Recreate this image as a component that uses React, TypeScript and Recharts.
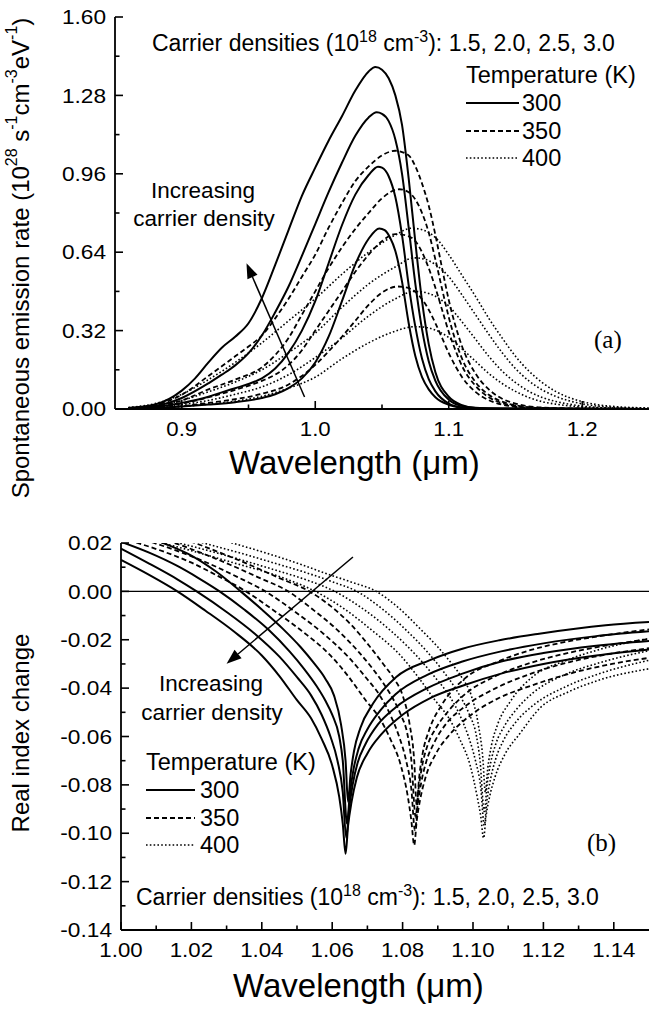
import React from 'react';
import { LineChart, Line, XAxis, YAxis, ReferenceLine } from 'recharts';

// ---------------- Panel (a): spontaneous emission rate ----------------
const aXMajor = [0.9, 1.0, 1.1, 1.2];
const aXMinor = [0.95, 1.05, 1.15];
const aYMajor = [0, 0.32, 0.64, 0.96, 1.28, 1.6];
const aYMinor = [0.16, 0.48, 0.8, 1.12, 1.44];

// 300 K (solid), carrier densities 3.0, 2.5, 2.0, 1.5 (x10^18 cm^-3)
const emis300_30 = [[0.86,0.004],[0.88,0.018],[0.90,0.075],[0.91,0.125],[0.92,0.190],[0.93,0.250],[0.94,0.295],[0.95,0.350],[0.96,0.452],[0.97,0.588],[0.98,0.730],[0.99,0.870],[1.00,0.985],[1.01,1.095],[1.02,1.195],[1.03,1.300],[1.04,1.378],[1.045,1.396],[1.05,1.385],[1.055,1.350],[1.06,1.280],[1.065,1.160],[1.07,0.940],[1.075,0.680],[1.08,0.440],[1.085,0.265],[1.09,0.150],[1.10,0.050],[1.11,0.016],[1.12,0.005],[1.14,0.001],[1.25,0]];
const emis300_25 = [[0.86,0.003],[0.88,0.012],[0.90,0.045],[0.92,0.105],[0.93,0.140],[0.94,0.178],[0.95,0.228],[0.96,0.300],[0.97,0.395],[0.98,0.500],[0.99,0.625],[1.00,0.755],[1.01,0.885],[1.02,1.005],[1.03,1.115],[1.04,1.190],[1.046,1.211],[1.05,1.205],[1.055,1.175],[1.06,1.100],[1.065,0.960],[1.07,0.740],[1.075,0.510],[1.08,0.325],[1.085,0.195],[1.09,0.115],[1.10,0.038],[1.11,0.012],[1.12,0.004],[1.14,0.001],[1.25,0]];
const emis300_20 = [[0.86,0.002],[0.88,0.008],[0.90,0.025],[0.92,0.050],[0.93,0.068],[0.94,0.085],[0.95,0.102],[0.96,0.125],[0.97,0.165],[0.98,0.230],[0.99,0.320],[1.00,0.440],[1.01,0.595],[1.02,0.750],[1.03,0.875],[1.04,0.955],[1.047,0.989],[1.05,0.985],[1.055,0.950],[1.06,0.865],[1.065,0.710],[1.07,0.505],[1.075,0.335],[1.08,0.205],[1.085,0.122],[1.09,0.072],[1.10,0.022],[1.11,0.006],[1.12,0.002],[1.25,0]];
const emis300_15 = [[0.86,0.001],[0.88,0.004],[0.90,0.010],[0.92,0.018],[0.94,0.028],[0.96,0.045],[0.97,0.060],[0.98,0.085],[0.99,0.125],[1.00,0.190],[1.01,0.295],[1.02,0.440],[1.03,0.590],[1.04,0.695],[1.048,0.737],[1.052,0.730],[1.056,0.700],[1.06,0.645],[1.065,0.520],[1.07,0.350],[1.075,0.215],[1.08,0.130],[1.085,0.080],[1.09,0.048],[1.10,0.017],[1.11,0.005],[1.12,0.001],[1.25,0]];
// 350 K (dashed)
const emis350_30 = [[0.86,0.004],[0.88,0.016],[0.90,0.058],[0.92,0.135],[0.94,0.215],[0.95,0.255],[0.96,0.300],[0.97,0.370],[0.98,0.450],[0.99,0.540],[1.00,0.630],[1.01,0.740],[1.02,0.840],[1.03,0.930],[1.04,0.990],[1.05,1.035],[1.06,1.054],[1.07,1.035],[1.075,0.990],[1.08,0.920],[1.085,0.830],[1.09,0.710],[1.095,0.575],[1.10,0.445],[1.105,0.340],[1.11,0.255],[1.12,0.145],[1.13,0.080],[1.14,0.042],[1.15,0.022],[1.17,0.006],[1.20,0.001],[1.25,0]];
const emis350_25 = [[0.86,0.003],[0.88,0.010],[0.90,0.035],[0.92,0.080],[0.94,0.120],[0.96,0.170],[0.97,0.220],[0.98,0.290],[0.99,0.385],[1.00,0.480],[1.01,0.575],[1.02,0.660],[1.03,0.735],[1.04,0.800],[1.05,0.860],[1.063,0.897],[1.07,0.885],[1.075,0.855],[1.08,0.800],[1.085,0.720],[1.09,0.610],[1.095,0.490],[1.10,0.375],[1.105,0.280],[1.11,0.205],[1.12,0.110],[1.13,0.058],[1.14,0.030],[1.15,0.015],[1.17,0.004],[1.20,0.001],[1.25,0]];
const emis350_20 = [[0.86,0.002],[0.88,0.007],[0.90,0.022],[0.92,0.048],[0.94,0.078],[0.96,0.115],[0.97,0.140],[0.98,0.180],[0.99,0.240],[1.00,0.320],[1.01,0.400],[1.02,0.480],[1.03,0.560],[1.04,0.630],[1.05,0.685],[1.06,0.714],[1.07,0.705],[1.075,0.685],[1.08,0.640],[1.085,0.575],[1.09,0.495],[1.095,0.405],[1.10,0.315],[1.105,0.240],[1.11,0.175],[1.12,0.095],[1.13,0.048],[1.14,0.024],[1.15,0.012],[1.17,0.003],[1.25,0]];
const emis350_15 = [[0.86,0.001],[0.88,0.004],[0.90,0.012],[0.92,0.025],[0.94,0.040],[0.96,0.062],[0.98,0.100],[0.99,0.135],[1.00,0.180],[1.01,0.235],[1.02,0.295],[1.03,0.360],[1.04,0.425],[1.05,0.475],[1.062,0.500],[1.07,0.493],[1.075,0.478],[1.08,0.448],[1.085,0.405],[1.09,0.350],[1.095,0.290],[1.10,0.228],[1.105,0.175],[1.11,0.130],[1.12,0.070],[1.13,0.036],[1.14,0.018],[1.15,0.009],[1.17,0.002],[1.25,0]];
// 400 K (dotted)
const emis400_30 = [[0.86,0.006],[0.88,0.022],[0.90,0.060],[0.92,0.120],[0.94,0.190],[0.96,0.270],[0.98,0.360],[1.00,0.450],[1.02,0.550],[1.04,0.640],[1.06,0.710],[1.072,0.738],[1.08,0.732],[1.09,0.700],[1.10,0.630],[1.11,0.545],[1.12,0.460],[1.13,0.370],[1.14,0.290],[1.15,0.215],[1.16,0.155],[1.17,0.108],[1.18,0.072],[1.19,0.047],[1.20,0.030],[1.22,0.012],[1.25,0.004]];
const emis400_25 = [[0.86,0.004],[0.88,0.014],[0.90,0.035],[0.92,0.070],[0.94,0.110],[0.96,0.160],[0.98,0.230],[1.00,0.310],[1.02,0.415],[1.04,0.510],[1.06,0.580],[1.074,0.617],[1.08,0.614],[1.09,0.590],[1.10,0.540],[1.11,0.465],[1.12,0.385],[1.13,0.305],[1.14,0.230],[1.15,0.165],[1.16,0.115],[1.17,0.078],[1.18,0.052],[1.20,0.021],[1.22,0.008],[1.25,0.002]];
const emis400_20 = [[0.86,0.002],[0.88,0.007],[0.90,0.018],[0.92,0.035],[0.94,0.060],[0.96,0.090],[0.98,0.140],[1.00,0.210],[1.02,0.290],[1.04,0.380],[1.06,0.450],[1.074,0.480],[1.08,0.478],[1.09,0.460],[1.10,0.420],[1.11,0.355],[1.12,0.285],[1.13,0.215],[1.14,0.155],[1.15,0.108],[1.16,0.072],[1.17,0.047],[1.18,0.031],[1.20,0.012],[1.22,0.004],[1.25,0.001]];
const emis400_15 = [[0.86,0.001],[0.88,0.004],[0.90,0.010],[0.92,0.020],[0.94,0.032],[0.96,0.052],[0.98,0.085],[1.00,0.130],[1.02,0.205],[1.04,0.270],[1.06,0.318],[1.074,0.336],[1.08,0.335],[1.09,0.322],[1.10,0.292],[1.11,0.245],[1.12,0.195],[1.13,0.145],[1.14,0.104],[1.15,0.072],[1.16,0.047],[1.17,0.030],[1.18,0.020],[1.20,0.008],[1.22,0.003],[1.25,0]];

// ---------------- Panel (b): real index change ----------------
const bXMajor = [1.0, 1.02, 1.04, 1.06, 1.08, 1.1, 1.12, 1.14];
const bXMinor = [1.01, 1.03, 1.05, 1.07, 1.09, 1.11, 1.13];
const bYMajor = [0.02, 0, -0.02, -0.04, -0.06, -0.08, -0.1, -0.12, -0.14];
const bYMinor = [0.01, -0.01, -0.03, -0.05, -0.07, -0.09, -0.11, -0.13];

const dn300_30 = [[1.000,0.0130],[1.008,0.0068],[1.016,0.0000],[1.024,-0.0080],[1.032,-0.0165],[1.040,-0.0265],[1.045,-0.0350],[1.050,-0.0450],[1.054,-0.0525],[1.057,-0.0610],[1.060,-0.0720],[1.062,-0.0850],[1.063,-0.0960],[1.0638,-0.1085],[1.0645,-0.0970],[1.0655,-0.0870],[1.067,-0.0770],[1.070,-0.0670],[1.074,-0.0590],[1.080,-0.0510],[1.088,-0.0440],[1.097,-0.0390],[1.108,-0.0340],[1.120,-0.0300],[1.135,-0.0265],[1.150,-0.0240]];
const dn300_25 = [[1.000,0.0177],[1.008,0.0115],[1.016,0.0050],[1.0215,0.0000],[1.030,-0.0085],[1.038,-0.0175],[1.045,-0.0270],[1.050,-0.0355],[1.054,-0.0430],[1.057,-0.0510],[1.0595,-0.0600],[1.0615,-0.0700],[1.063,-0.0830],[1.064,-0.1020],[1.0648,-0.0900],[1.0658,-0.0800],[1.0672,-0.0710],[1.0695,-0.0630],[1.073,-0.0550],[1.078,-0.0480],[1.087,-0.0400],[1.097,-0.0340],[1.108,-0.0290],[1.120,-0.0255],[1.135,-0.0225],[1.150,-0.0205]];
const dn300_20 = [[1.000,0.0205],[1.008,0.0160],[1.016,0.0105],[1.022,0.0055],[1.028,0.0000],[1.035,-0.0075],[1.042,-0.0160],[1.048,-0.0250],[1.052,-0.0320],[1.0555,-0.0390],[1.058,-0.0450],[1.060,-0.0510],[1.062,-0.0600],[1.063,-0.0700],[1.0642,-0.0960],[1.065,-0.0840],[1.066,-0.0740],[1.0675,-0.0650],[1.070,-0.0570],[1.0735,-0.0495],[1.078,-0.0425],[1.087,-0.0345],[1.097,-0.0290],[1.108,-0.0248],[1.120,-0.0215],[1.135,-0.0185],[1.150,-0.0165]];
const dn300_15 = [[1.000,0.0265],[1.012,0.0200],[1.020,0.0148],[1.027,0.0082],[1.034,0.0000],[1.040,-0.0075],[1.046,-0.0155],[1.051,-0.0230],[1.055,-0.0300],[1.058,-0.0360],[1.0605,-0.0430],[1.0625,-0.0550],[1.0638,-0.0700],[1.0645,-0.0870],[1.0652,-0.0760],[1.0662,-0.0660],[1.068,-0.0565],[1.0716,-0.0464],[1.0782,-0.0354],[1.0876,-0.0285],[1.097,-0.0237],[1.1075,-0.0202],[1.1188,-0.0175],[1.1377,-0.0140],[1.150,-0.0127]];

const dn350_30 = [[1.000,0.0220],[1.0047,0.0200],[1.012,0.0165],[1.0195,0.0122],[1.0275,0.0064],[1.0355,0.0000],[1.0435,-0.0080],[1.0515,-0.0165],[1.0595,-0.0265],[1.0645,-0.0350],[1.0695,-0.0450],[1.0735,-0.0525],[1.0765,-0.0610],[1.0795,-0.0720],[1.0815,-0.0850],[1.0825,-0.0950],[1.0833,-0.1050],[1.084,-0.0950],[1.085,-0.0860],[1.0865,-0.0770],[1.0895,-0.0670],[1.0935,-0.0590],[1.0995,-0.0510],[1.1075,-0.0440],[1.1165,-0.0390],[1.1275,-0.0340],[1.1395,-0.0300],[1.150,-0.0275]];
const dn350_25 = [[1.000,0.0240],[1.0094,0.0200],[1.017,0.0162],[1.025,0.0115],[1.033,0.0060],[1.041,0.0000],[1.0495,-0.0085],[1.0575,-0.0175],[1.0645,-0.0270],[1.0695,-0.0355],[1.0735,-0.0430],[1.0765,-0.0510],[1.079,-0.0600],[1.081,-0.0700],[1.0825,-0.0820],[1.0835,-0.0988],[1.0843,-0.0880],[1.0853,-0.0790],[1.0867,-0.0705],[1.089,-0.0625],[1.0925,-0.0545],[1.0975,-0.0478],[1.1065,-0.0400],[1.1165,-0.0340],[1.1275,-0.0292],[1.1395,-0.0257],[1.150,-0.0235]];
const dn350_20 = [[1.000,0.0265],[1.0152,0.0200],[1.023,0.0158],[1.031,0.0110],[1.039,0.0058],[1.0475,0.0000],[1.0545,-0.0075],[1.0615,-0.0160],[1.0675,-0.0250],[1.0715,-0.0320],[1.075,-0.0390],[1.0775,-0.0450],[1.0795,-0.0510],[1.0815,-0.0600],[1.0825,-0.0700],[1.0837,-0.0932],[1.0845,-0.0820],[1.0855,-0.0725],[1.087,-0.0640],[1.0895,-0.0565],[1.093,-0.0495],[1.0975,-0.0428],[1.1065,-0.0350],[1.1165,-0.0295],[1.1275,-0.0253],[1.1395,-0.0220],[1.150,-0.0197]];
const dn350_15 = [[1.000,0.0290],[1.021,0.0200],[1.029,0.0155],[1.037,0.0107],[1.045,0.0055],[1.0535,0.0000],[1.0595,-0.0060],[1.0655,-0.0140],[1.0705,-0.0225],[1.0745,-0.0300],[1.0775,-0.0360],[1.080,-0.0430],[1.082,-0.0550],[1.0833,-0.0700],[1.0840,-0.0883],[1.0847,-0.0770],[1.0857,-0.0670],[1.0875,-0.0575],[1.0911,-0.0470],[1.0977,-0.0360],[1.1071,-0.0290],[1.1165,-0.0242],[1.127,-0.0207],[1.1383,-0.0180],[1.150,-0.0157]];

const dn400_30 = [[1.000,0.0240],[1.0117,0.0200],[1.022,0.0160],[1.032,0.0118],[1.040,0.0085],[1.0475,0.0048],[1.0552,0.0000],[1.0632,-0.0070],[1.0712,-0.0160],[1.0792,-0.0262],[1.0842,-0.0350],[1.0892,-0.0450],[1.0932,-0.0525],[1.0962,-0.0610],[1.0992,-0.0720],[1.1012,-0.0850],[1.1022,-0.0930],[1.1030,-0.1020],[1.1037,-0.0930],[1.1047,-0.0850],[1.1062,-0.0770],[1.1092,-0.0670],[1.1132,-0.0590],[1.1192,-0.0480],[1.1272,-0.0415],[1.1362,-0.0365],[1.150,-0.0320]];
const dn400_25 = [[1.000,0.0255],[1.0164,0.0200],[1.027,0.0160],[1.037,0.0118],[1.045,0.0083],[1.053,0.0046],[1.0607,0.0000],[1.0692,-0.0077],[1.0772,-0.0170],[1.0842,-0.0270],[1.0892,-0.0355],[1.0932,-0.0430],[1.0962,-0.0510],[1.0987,-0.0600],[1.1007,-0.0700],[1.1022,-0.0810],[1.1032,-0.0967],[1.104,-0.0860],[1.105,-0.0775],[1.1064,-0.0695],[1.1087,-0.0615],[1.1122,-0.0540],[1.1172,-0.0470],[1.1262,-0.0395],[1.137,-0.0335],[1.150,-0.0285]];
const dn400_20 = [[1.000,0.0290],[1.0234,0.0200],[1.034,0.0158],[1.044,0.0115],[1.052,0.0080],[1.060,0.0040],[1.067,0.0000],[1.074,-0.0070],[1.081,-0.0160],[1.087,-0.0250],[1.091,-0.0320],[1.0945,-0.0390],[1.097,-0.0450],[1.099,-0.0510],[1.101,-0.0600],[1.102,-0.0700],[1.1032,-0.0910],[1.104,-0.0800],[1.105,-0.0710],[1.1065,-0.0630],[1.109,-0.0555],[1.1125,-0.0485],[1.117,-0.0420],[1.126,-0.0345],[1.136,-0.0295],[1.150,-0.0245]];
const dn400_15 = [[1.000,0.0320],[1.0316,0.0200],[1.042,0.0155],[1.051,0.0112],[1.058,0.0075],[1.0655,0.0038],[1.0725,0.0000],[1.079,-0.0070],[1.085,-0.0155],[1.090,-0.0230],[1.094,-0.0300],[1.097,-0.0360],[1.0995,-0.0430],[1.1015,-0.0550],[1.1028,-0.0690],[1.1035,-0.0830],[1.1042,-0.0730],[1.1052,-0.0640],[1.107,-0.0550],[1.1106,-0.0455],[1.1172,-0.0350],[1.1266,-0.0285],[1.136,-0.0240],[1.150,-0.0195]];

// arrows (data coordinates of "increasing carrier density" arrows)
const arrowA = [{ x: 0.992, y: 0.049 }, { x: 0.9485, y: 0.595 }];
const arrowB = [{ x: 1.0659, y: 0.0142 }, { x: 1.030, y: -0.0299 }];

const FONT = '"Liberation Sans", Arial, Helvetica, sans-serif';
const SERIF = '"Liberation Serif", "Times New Roman", serif';

type Temp = 300 | 350 | 400;
const lineStyle: Record<Temp, { w: number; dash?: string }> = {
  300: { w: 2 },
  350: { w: 1.8, dash: '5 3' },
  400: { w: 1.6, dash: '1.6 2.2' },
};

const toPts = (arr: number[][]) => arr.map(([x, y]) => ({ x, y }));

const seriesA: { t: Temp; d: number[][] }[] = [
  { t: 400, d: emis400_15 }, { t: 400, d: emis400_20 }, { t: 400, d: emis400_25 }, { t: 400, d: emis400_30 },
  { t: 350, d: emis350_15 }, { t: 350, d: emis350_20 }, { t: 350, d: emis350_25 }, { t: 350, d: emis350_30 },
  { t: 300, d: emis300_15 }, { t: 300, d: emis300_20 }, { t: 300, d: emis300_25 }, { t: 300, d: emis300_30 },
];
const seriesB: { t: Temp; d: number[][] }[] = [
  { t: 400, d: dn400_15 }, { t: 400, d: dn400_20 }, { t: 400, d: dn400_25 }, { t: 400, d: dn400_30 },
  { t: 350, d: dn350_15 }, { t: 350, d: dn350_20 }, { t: 350, d: dn350_25 }, { t: 350, d: dn350_30 },
  { t: 300, d: dn300_15 }, { t: 300, d: dn300_20 }, { t: 300, d: dn300_25 }, { t: 300, d: dn300_30 },
];

const sortTicks = (a: number[], b: number[]) => [...a, ...b].sort((p, q) => p - q);
const isIn = (list: number[], v: number) => list.some((m) => Math.abs(m - v) < 1e-9);

type Side = 'left' | 'right' | 'top' | 'bottom';
const makeTick = (side: Side, major: number[], fmt: ((v: number) => string) | null) => (props: any) => {
  const { x, y, payload } = props;
  const v = payload.value as number;
  const maj = isIn(major, v);
  const len = maj ? 8 : 4.5;
  let l: number[] = [x, y, x, y];
  if (side === 'left') l = [x, y, x + len, y];
  if (side === 'right') l = [x, y, x - len, y];
  if (side === 'top') l = [x, y, x, y + len];
  if (side === 'bottom') l = [x, y, x, y - len];
  let label: React.ReactNode = null;
  if (fmt && maj && side === 'left') {
    label = (
      <text transform={`translate(${x - 9},${y}) scale(1.08,1)`} x={0} y={0} textAnchor="end"
        dominantBaseline="central" fontFamily={FONT} fontSize={21} fill="#000">{fmt(v)}</text>
    );
  }
  if (fmt && maj && side === 'bottom') {
    label = (
      <text transform={`translate(${x},${y + 20}) scale(1.06,1)`} x={0} y={0} textAnchor="middle"
        dominantBaseline="central" fontFamily={FONT} fontSize={21} fill="#000">{fmt(v)}</text>
    );
  }
  return (
    <g>
      <line x1={l[0]} y1={l[1]} x2={l[2]} y2={l[3]} stroke="#000" strokeWidth={1.6} />
      {label}
    </g>
  );
};

const arrowShape = (p: any) => {
  const { x1, y1, x2, y2 } = p;
  const dx = x2 - x1;
  const dy = y2 - y1;
  const L = Math.sqrt(dx * dx + dy * dy);
  const ux = dx / L;
  const uy = dy / L;
  const hl = 15;
  const hw = 5.5;
  const bx = x2 - ux * hl;
  const by = y2 - uy * hl;
  return (
    <g>
      <line x1={x1} y1={y1} x2={bx} y2={by} stroke="#000" strokeWidth={1.5} />
      <polygon points={`${x2},${y2} ${bx - uy * hw},${by + ux * hw} ${bx + uy * hw},${by - ux * hw}`} fill="#000" />
    </g>
  );
};

const axisLineStyle = { stroke: '#000', strokeWidth: 1.8 };

const PanelA = () => {
  const xt = sortTicks(aXMajor, aXMinor);
  const yt = sortTicks(aYMajor, aYMinor);
  return (
    <LineChart width={650} height={480} margin={{ top: 17, right: 1, bottom: 0, left: 0 }}>
      <XAxis type="number" dataKey="x" domain={[0.85, 1.25]} ticks={xt} interval={0} allowDataOverflow height={71}
        tickSize={0} tickMargin={0} tickLine={false} axisLine={axisLineStyle}
        tick={makeTick('bottom', aXMajor, (v) => v.toFixed(1))} />
      <XAxis xAxisId="top" orientation="top" type="number" dataKey="x" domain={[0.85, 1.25]} ticks={xt} interval={0}
        allowDataOverflow height={0} tickSize={0} tickMargin={0} tickLine={false} axisLine={axisLineStyle}
        tick={makeTick('top', aXMajor, null)} />
      <YAxis type="number" domain={[0, 1.6]} ticks={yt} interval={0} allowDataOverflow width={115}
        tickSize={0} tickMargin={0} tickLine={false} axisLine={axisLineStyle}
        tick={makeTick('left', aYMajor, (v) => v.toFixed(2))} />
      <YAxis yAxisId="right" orientation="right" type="number" domain={[0, 1.6]} ticks={yt} interval={0}
        allowDataOverflow width={0} tickSize={0} tickMargin={0} tickLine={false} axisLine={axisLineStyle}
        tick={makeTick('right', aYMajor, null)} />
      {seriesA.map((s, i) => (
        <Line key={`a${i}`} data={toPts(s.d)} dataKey="y" type="monotone" stroke="#000"
          strokeWidth={lineStyle[s.t].w} strokeDasharray={lineStyle[s.t].dash} dot={false} activeDot={false}
          isAnimationActive={false} />
      ))}
      <ReferenceLine segment={arrowA} shape={arrowShape} ifOverflow="visible" />
    </LineChart>
  );
};

const PanelB = () => {
  const xt = sortTicks(bXMajor, bXMinor);
  const yt = sortTicks(bYMajor, bYMinor);
  return (
    <LineChart width={650} height={530} margin={{ top: 63, right: 1, bottom: 0, left: 0 }}>
      <XAxis type="number" dataKey="x" domain={[1.0, 1.15]} ticks={xt} interval={0} allowDataOverflow height={80}
        tickSize={0} tickMargin={0} tickLine={false} axisLine={axisLineStyle}
        tick={makeTick('bottom', bXMajor, (v) => v.toFixed(2))} />
      <XAxis xAxisId="top" orientation="top" type="number" dataKey="x" domain={[1.0, 1.15]} ticks={xt} interval={0}
        allowDataOverflow height={0} tickSize={0} tickMargin={0} tickLine={false} axisLine={axisLineStyle}
        tick={makeTick('top', bXMajor, null)} />
      <YAxis type="number" domain={[-0.14, 0.02]} ticks={yt} interval={0} allowDataOverflow width={121}
        tickSize={0} tickMargin={0} tickLine={false} axisLine={axisLineStyle}
        tick={makeTick('left', bYMajor, (v) => (Math.abs(v) < 1e-9 ? '0.00' : v.toFixed(2)))} />
      <YAxis yAxisId="right" orientation="right" type="number" domain={[-0.14, 0.02]} ticks={yt} interval={0}
        allowDataOverflow width={0} tickSize={0} tickMargin={0} tickLine={false} axisLine={axisLineStyle}
        tick={makeTick('right', bYMajor, null)} />
      <ReferenceLine y={0} stroke="#000" strokeWidth={1.3} />
      {seriesB.map((s, i) => (
        <Line key={`b${i}`} data={toPts(s.d)} dataKey="y" type="monotone" stroke="#000"
          strokeWidth={lineStyle[s.t].w} strokeDasharray={lineStyle[s.t].dash} dot={false} activeDot={false}
          isAnimationActive={false} />
      ))}
      <ReferenceLine segment={arrowB} shape={arrowShape} ifOverflow="visible" />
    </LineChart>
  );
};

const LegendBlock = ({ x, y, lineLen, labelX }: { x: number; y: number; lineLen: number; labelX: number }) => {
  const temps: Temp[] = [300, 350, 400];
  const gap = [0, 28, 55];
  return (
    <g>
      <text x={x} y={y} fontFamily={FONT} fontSize={23.5} fill="#000">Temperature (K)</text>
      {temps.map((t, i) => (
        <g key={t}>
          <line x1={x} x2={x + lineLen} y1={y + 20 + gap[i]} y2={y + 20 + gap[i]} stroke="#000"
            strokeWidth={lineStyle[t].w} strokeDasharray={lineStyle[t].dash} />
          <text x={labelX} y={y + 28 + gap[i]} fontFamily={FONT} fontSize={23.5} fill="#000">{t}</text>
        </g>
      ))}
    </g>
  );
};

const CarrierText = ({ x, y }: { x: number; y: number }) => (
  <text x={x} y={y} fontFamily={FONT} fontSize={23} fill="#000">
    <tspan>Carrier densities (10</tspan>
    <tspan dy={-9} fontSize={16}>18</tspan>
    <tspan dy={9}> cm</tspan>
    <tspan dy={-9} fontSize={16}>-3</tspan>
    <tspan dy={9}>): 1.5, 2.0, 2.5, 3.0</tspan>
  </text>
);

const Overlay = () => (
  <svg width={650} height={1010} style={{ position: 'absolute', left: 0, top: 0, pointerEvents: 'none' }}>
    {/* panel (a) */}
    <CarrierText x={152} y={51} />
    <LegendBlock x={466} y={83} lineLen={53} labelX={522} />
    <text x={203} y={198} textAnchor="middle" fontFamily={FONT} fontSize={22.5}>Increasing</text>
    <text x={204} y={226} textAnchor="middle" fontFamily={FONT} fontSize={22.5}>carrier density</text>
    <text x={594} y={348} fontFamily={SERIF} fontSize={25}>(a)</text>
    <text x={229} y={474} fontFamily={FONT} fontSize={33}>Wavelength (μm)</text>
    <text x={20} y={258} textAnchor="middle" dominantBaseline="central" fontFamily={FONT} fontSize={24}
      transform="rotate(-90 20 258)">
      <tspan>Spontaneous emission rate (10</tspan>
      <tspan dy={-9} fontSize={16}>28</tspan>
      <tspan dy={9}> s</tspan>
      <tspan dy={-9} fontSize={16}>-1</tspan>
      <tspan dy={9}>cm</tspan>
      <tspan dy={-9} fontSize={16}>-3</tspan>
      <tspan dy={9}>eV</tspan>
      <tspan dy={-9} fontSize={16}>-1</tspan>
      <tspan dy={9}>)</tspan>
    </text>
    {/* panel (b) */}
    <text x={211} y={691} textAnchor="middle" fontFamily={FONT} fontSize={22.5}>Increasing</text>
    <text x={212} y={720} textAnchor="middle" fontFamily={FONT} fontSize={22.5}>carrier density</text>
    <LegendBlock x={146} y={770} lineLen={49} labelX={200} />
    <text x={587} y={851} fontFamily={SERIF} fontSize={25}>(b)</text>
    <CarrierText x={136} y={905} />
    <text x={233} y={997} fontFamily={FONT} fontSize={33}>Wavelength (μm)</text>
    <text x={20} y={733} textAnchor="middle" dominantBaseline="central" fontFamily={FONT} fontSize={24}
      transform="rotate(-90 20 733)">Real index change</text>
  </svg>
);

export default function App() {
  return (
    <div style={{ position: 'absolute', left: 0, top: 0, width: 650, height: 1010, overflow: 'hidden', background: '#fff' }}>
      <div style={{ position: 'absolute', left: 0, top: 0 }}>
        <PanelA />
      </div>
      <div style={{ position: 'absolute', left: 0, top: 480 }}>
        <PanelB />
      </div>
      <Overlay />
    </div>
  );
}
